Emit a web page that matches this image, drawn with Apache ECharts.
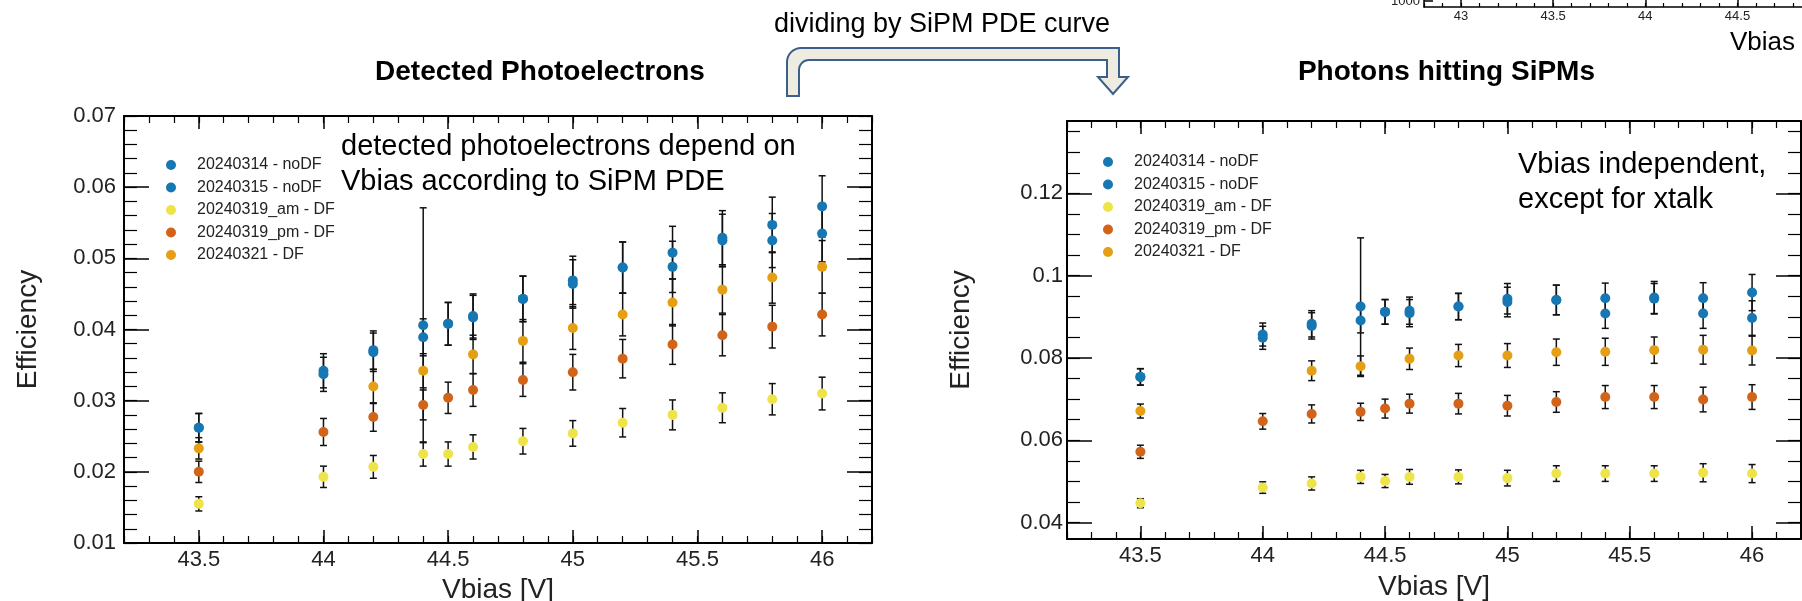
<!DOCTYPE html>
<html><head><meta charset="utf-8">
<script src="https://cdn.jsdelivr.net/npm/echarts@6/dist/echarts.min.js"></script>
<style>html,body{margin:0;padding:0;background:#fff}#c{width:1802px;height:601px}</style>
</head><body><div id="c"></div>
<script>
// ---------------- data ----------------
const vbias = [43.5, 44, 44.2, 44.4, 44.5, 44.6, 44.8, 45, 45.2, 45.4, 45.6, 45.8, 46];
const seriesNames = ['20240314 - noDF', '20240315 - noDF', '20240319_am - DF', '20240319_pm - DF', '20240321 - DF'];

// Detected photoelectrons (left)
const det_0314    = [0.0262, 0.0342, 0.0371, 0.0406, 0.0408, 0.0419, 0.0443, 0.0469, 0.0487, 0.0508, 0.0529, 0.0547, 0.0573];
const det_0314_e  = [0.0020, 0.0024, 0.0027, 0.0165, 0.0030, 0.0031, 0.0032, 0.0034, 0.0036, 0.0037, 0.0038, 0.0039, 0.0043];
const det_0315    = [0.0262, 0.0337, 0.0368, 0.0389, 0.0408, 0.0417, 0.0443, 0.0464, 0.0487, 0.0488, 0.0525, 0.0525, 0.0535];
const det_0315_e  = [0.0020, 0.0024, 0.0027, 0.0026, 0.0030, 0.0031, 0.0032, 0.0034, 0.0036, 0.0036, 0.0037, 0.0038, 0.0040];
const det_am      = [0.0155, 0.0193, 0.0207, 0.0225, 0.0225, 0.0235, 0.0243, 0.0254, 0.0269, 0.0280, 0.0290, 0.0302, 0.0310];
const det_am_e    = [0.0010, 0.0015, 0.0016, 0.0017, 0.0017, 0.0017, 0.0018, 0.0018, 0.0020, 0.0021, 0.0021, 0.0022, 0.0023];
const det_pm      = [0.0200, 0.0256, 0.0277, 0.0294, 0.0304, 0.0315, 0.0329, 0.0340, 0.0359, 0.0379, 0.0392, 0.0404, 0.0421];
const det_pm_e    = [0.0015, 0.0019, 0.0020, 0.0021, 0.0022, 0.0023, 0.0023, 0.0025, 0.0027, 0.0028, 0.0029, 0.0030, 0.0030];
const det_0321    = [0.0233, null, 0.0320, 0.0342, null, 0.0365, 0.0384, 0.0402, 0.0421, 0.0438, 0.0456, 0.0473, 0.0488];
const det_0321_e  = [0.0015, null, 0.0024, 0.0024, null, 0.0027, 0.0030, 0.0030, 0.0030, 0.0033, 0.0033, 0.0036, 0.0037];

// Photons hitting SiPMs (right)
const pho_0314    = [0.0754, 0.0857, 0.0883, 0.0925, 0.0912, 0.0915, 0.0925, 0.0944, 0.0941, 0.0945, 0.0947, 0.0945, 0.0959];
const pho_0314_e  = [0.0020, 0.0028, 0.0032, 0.0167, 0.0030, 0.0033, 0.0032, 0.0037, 0.0036, 0.0037, 0.0039, 0.0038, 0.0044];
const pho_0315    = [0.0754, 0.0849, 0.0878, 0.0891, 0.0912, 0.0909, 0.0925, 0.0936, 0.0941, 0.0908, 0.0944, 0.0908, 0.0897];
const pho_0315_e  = [0.0020, 0.0028, 0.0032, 0.0030, 0.0030, 0.0033, 0.0032, 0.0036, 0.0036, 0.0036, 0.0037, 0.0036, 0.0042];
const pho_am      = [0.0447, 0.0485, 0.0495, 0.0511, 0.0501, 0.0511, 0.0511, 0.0508, 0.0519, 0.0519, 0.0519, 0.0521, 0.0519];
const pho_am_e    = [0.0011, 0.0014, 0.0016, 0.0016, 0.0016, 0.0018, 0.0017, 0.0019, 0.0019, 0.0019, 0.0019, 0.0022, 0.0022];
const pho_pm      = [0.0572, 0.0646, 0.0664, 0.0669, 0.0677, 0.0689, 0.0689, 0.0684, 0.0693, 0.0705, 0.0705, 0.0699, 0.0705];
const pho_pm_e    = [0.0016, 0.0019, 0.0022, 0.0021, 0.0023, 0.0023, 0.0025, 0.0025, 0.0025, 0.0028, 0.0028, 0.0030, 0.0030];
const pho_0321    = [0.0671, null, 0.0769, 0.0780, null, 0.0798, 0.0806, 0.0806, 0.0814, 0.0815, 0.0819, 0.0820, 0.0818];
const pho_0321_e  = [0.0017, null, 0.0024, 0.0025, null, 0.0026, 0.0027, 0.0029, 0.0032, 0.0033, 0.0032, 0.0035, 0.0035];

// tick labels
const vbiasTicks = [43.5, 44, 44.5, 45, 45.5, 46];
const detTicks = [0.01, 0.02, 0.03, 0.04, 0.05, 0.06, 0.07];
const phoTicks = [0.04, 0.06, 0.08, 0.1, 0.12];
const insetTicks = [43, 43.5, 44, 44.5];
const insetYTicks = [1000];

// ---------------- helpers ----------------
const FONT = "'Liberation Sans', Arial, Helvetica, sans-serif";
const colors = ['#1677b3', '#1677b3', '#eee348', '#d2641a', '#e49f14'];
function steps(a, b, s) { const r = []; const n = Math.round((b - a) / s); for (let i = 0; i <= n; i++) r.push(+(a + i * s).toFixed(4)); return r; }
const plain = v => String(v);

const xAxes = [], yAxes = [];
function addX(grid, pos, min, max, majors, minors, o) {
  o = o || {};
  xAxes.push({
    type: 'value', gridIndex: grid, position: pos, min: min, max: max,
    axisLine: { show: true, onZero: false, lineStyle: { color: '#000', width: o.lw || 2 } },
    axisTick: { show: true, inside: true, length: o.major || 13, customValues: majors, lineStyle: { color: '#000', width: 1.5 } },
    axisLabel: o.labels ? { show: true, customValues: majors, formatter: plain, color: '#222', fontFamily: FONT, fontSize: o.fs || 22, margin: o.margin || 6 } : { show: false },
    splitLine: { show: false },
    name: o.name || '', nameLocation: 'middle', nameGap: o.nameGap || 30,
    nameTextStyle: { color: '#222', fontFamily: FONT, fontSize: 28 }
  });
  xAxes.push({
    type: 'value', gridIndex: grid, position: pos, min: min, max: max,
    axisLine: { show: false, onZero: false },
    axisTick: { show: true, inside: true, length: o.minor || 7, customValues: minors, lineStyle: { color: '#000', width: 1.2 } },
    axisLabel: { show: false }, splitLine: { show: false }
  });
}
function addY(grid, pos, min, max, majors, minors, o) {
  o = o || {};
  yAxes.push({
    type: 'value', gridIndex: grid, position: pos, min: min, max: max,
    axisLine: { show: true, onZero: false, lineStyle: { color: '#000', width: o.lw || 2 } },
    axisTick: { show: true, inside: true, length: o.major || 25, customValues: majors, lineStyle: { color: '#000', width: 1.5 } },
    axisLabel: o.labels ? { show: true, customValues: majors, formatter: plain, color: '#222', fontFamily: FONT, fontSize: o.fs || 22, margin: o.margin || 8 } : { show: false },
    splitLine: { show: false },
    name: o.name || '', nameLocation: 'middle', nameGap: o.nameGap || 80, nameRotate: 90,
    nameTextStyle: { color: '#222', fontFamily: FONT, fontSize: 28 }
  });
  if (minors) yAxes.push({
    type: 'value', gridIndex: grid, position: pos, min: min, max: max,
    axisLine: { show: false, onZero: false },
    axisTick: { show: true, inside: true, length: o.minor || 13, customValues: minors, lineStyle: { color: '#000', width: 1.2 } },
    axisLabel: { show: false }, splitLine: { show: false }
  });
}

// left plot axes: x 0-3, y 0-3
const vMinor = steps(43.2, 46.2, 0.1);
addX(0, 'bottom', 43.2, 46.2, vbiasTicks, vMinor, { labels: true, name: 'Vbias [V]', nameGap: 30 });
addX(0, 'top', 43.2, 46.2, vbiasTicks, vMinor, {});
addY(0, 'left', 0.01, 0.07, detTicks, steps(0.01, 0.07, 0.002), { labels: true, name: 'Efficiency', nameGap: 82 });
addY(0, 'right', 0.01, 0.07, detTicks, steps(0.01, 0.07, 0.002), {});
// right plot axes: x 4-7, y 4-7
addX(1, 'bottom', 43.2, 46.2, vbiasTicks, vMinor, { labels: true, name: 'Vbias [V]', nameGap: 34 });
addX(1, 'top', 43.2, 46.2, vbiasTicks, vMinor, {});
addY(1, 'left', 0.036, 0.1376, phoTicks, steps(0.04, 0.135, 0.005), { labels: true, name: 'Efficiency', nameGap: 92, margin: 4 });
addY(1, 'right', 0.036, 0.1376, phoTicks, steps(0.04, 0.135, 0.005), {});
// inset axes (top-right, cropped): x 8-9, y 8
addX(2, 'bottom', 42.8, 44.85, insetTicks, steps(42.8, 44.8, 0.1), { labels: true, fs: 13, margin: 3, major: 9, minor: 4, lw: 1.5 });
addY(2, 'left', 900, 2700, insetYTicks, null, { labels: true, fs: 13, margin: 4, major: 9, lw: 1.5 });

// ---------------- series ----------------
function errBar(params, api) {
  const x = api.value(0), y = api.value(1), e = api.value(2);
  const t = api.coord([x, y + e]), b = api.coord([x, y - e]);
  const hw = 3.5, st = { stroke: '#111', lineWidth: 1.5 };
  return { type: 'group', children: [
    { type: 'line', shape: { x1: t[0], y1: t[1], x2: b[0], y2: b[1] }, style: st },
    { type: 'line', shape: { x1: t[0] - hw, y1: t[1], x2: t[0] + hw, y2: t[1] }, style: st },
    { type: 'line', shape: { x1: b[0] - hw, y1: b[1], x2: b[0] + hw, y2: b[1] }, style: st }
  ] };
}
const series = [];
function addPlot(xi, yi, vals, errs, tag) {
  vals.forEach((v, k) => {
    const d = vbias.map((x, i) => [x, v[i], errs[k][i]]).filter(p => p[1] != null);
    series.push({ type: 'custom', name: tag + 'err' + k, xAxisIndex: xi, yAxisIndex: yi, renderItem: errBar,
      data: d, encode: { x: 0, y: 1 }, z: 2, silent: true, clip: true });
  });
  vals.forEach((v, k) => {
    const d = vbias.map((x, i) => [x, v[i]]).filter(p => p[1] != null);
    series.push({ type: 'scatter', name: seriesNames[k], xAxisIndex: xi, yAxisIndex: yi, data: d,
      symbol: 'circle', symbolSize: 10, itemStyle: { color: colors[k], opacity: 1 }, z: 3, silent: true });
  });
}
addPlot(0, 0, [det_0314, det_0315, det_am, det_pm, det_0321], [det_0314_e, det_0315_e, det_am_e, det_pm_e, det_0321_e], 'L');
addPlot(4, 4, [pho_0314, pho_0315, pho_am, pho_pm, pho_0321], [pho_0314_e, pho_0315_e, pho_am_e, pho_pm_e, pho_0321_e], 'R');

const legendCommon = {
  orient: 'vertical', icon: 'circle', itemWidth: 42, itemHeight: 10, itemGap: 6.5, padding: 0,
  data: seriesNames, selectedMode: false,
  textStyle: { color: '#222', fontFamily: FONT, fontSize: 16, lineHeight: 16 }
};

const txt = (x, y, s, size, extra) => Object.assign({ type: 'text', x: x, y: y, silent: true,
  style: Object.assign({ text: s, fill: '#000', font: size + 'px ' + FONT, textVerticalAlign: 'middle' }, extra || {}) });

// bent arrow outline (rounded top-left corner)
const arrowPts = [[787, 96], [787, 62]];
for (let i = 1; i < 8; i++) { const a = Math.PI - i * Math.PI / 16; arrowPts.push([801 + 14 * Math.cos(a), 62 - 14 * Math.sin(a)]); }
arrowPts.push([801, 48], [1119, 48], [1119, 77], [1128, 77], [1113, 94], [1098, 77], [1107, 77], [1107, 60], [809, 60]);
for (let i = 1; i < 8; i++) { const a = Math.PI / 2 + i * Math.PI / 16; arrowPts.push([809 + 10 * Math.cos(a), 70 - 10 * Math.sin(a)]); }
arrowPts.push([799, 70], [799, 96]);

const option = {
  backgroundColor: '#fff',
  animation: false,
  grid: [
    { left: 124, top: 116, width: 748, height: 427, outerBoundsMode: 'none', containLabel: false },
    { left: 1067, top: 121, width: 734, height: 418, outerBoundsMode: 'none', containLabel: false },
    { left: 1424, top: -100, width: 378, height: 107, outerBoundsMode: 'none', containLabel: false }
  ],
  xAxis: xAxes, yAxis: yAxes,
  legend: [
    Object.assign({ left: 166, top: 157 }, legendCommon),
    Object.assign({ left: 1103, top: 154 }, legendCommon)
  ],
  series: series,
  graphic: [
    { type: 'polygon', silent: true, shape: { points: arrowPts },
      style: { fill: '#eeece1', stroke: '#3a5f8b', lineWidth: 2 } },
    txt(774, 25, 'dividing by SiPM PDE curve', 27),
    txt(540, 72, 'Detected Photoelectrons', 28, { font: 'bold 28px ' + FONT, textAlign: 'center' }),
    txt(1595, 72, 'Photons hitting SiPMs', 28, { font: 'bold 28px ' + FONT, textAlign: 'right' }),
    txt(341, 147, 'detected photoelectrons depend on', 29),
    txt(341, 182, 'Vbias according to SiPM PDE', 29),
    txt(1518, 165, 'Vbias independent,', 29),
    txt(1518, 200, 'except for xtalk', 29),
    txt(1795, 43, 'Vbias', 26, { textAlign: 'right' })
  ]
};
const chart = echarts.init(document.getElementById('c'), null, { renderer: 'canvas' });
chart.setOption(option);
</script></body></html>
